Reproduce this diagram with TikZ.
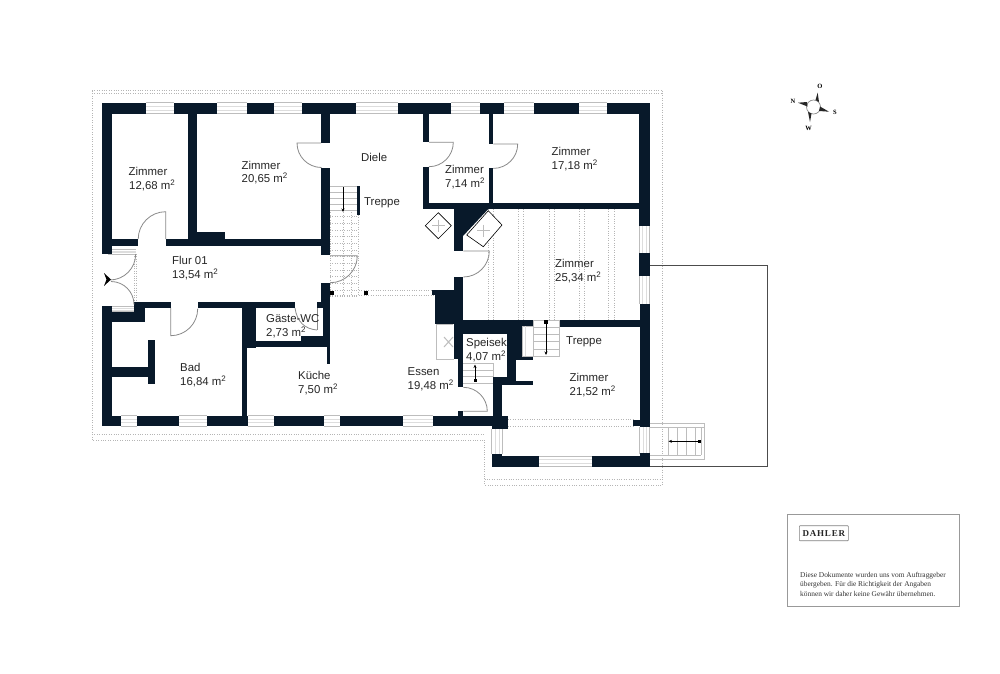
\documentclass[tikz,border=0pt]{standalone}
\usepackage{fontspec}
\usetikzlibrary{arrows.meta}
\setmainfont{Liberation Sans}
\newfontfamily\serifb{Liberation Serif}
\definecolor{wallc}{HTML}{08192A}
\definecolor{linec}{HTML}{8A8A8A}
\definecolor{winc}{HTML}{BDBDBD}
\definecolor{wininner}{HTML}{DDDDDD}
\definecolor{dotc}{HTML}{B5B5B5}
\newcommand{\wl}[4]{\fill[wallc] (#1,#2) rectangle (#3,#4);}
\newcommand{\hwin}[4]{\fill[white] (#1,#2) rectangle (#3,#4);
  \draw[wininnerline] (#1,{#2+(#4-#2)/3}) -- (#3,{#2+(#4-#2)/3}) (#1,{#2+2*(#4-#2)/3}) -- (#3,{#2+2*(#4-#2)/3});
  \draw[winline] (#1,#2) -- (#3,#2) (#1,#4) -- (#3,#4);}
\newcommand{\vwin}[4]{\fill[white] (#1,#2) rectangle (#3,#4);
  \draw[wininnerline] ({#1+(#3-#1)/3},#2) -- ({#1+(#3-#1)/3},#4) ({#1+2*(#3-#1)/3},#2) -- ({#1+2*(#3-#1)/3},#4);
  \draw[winline] (#1,#2) -- (#1,#4) (#3,#2) -- (#3,#4);}
\newcommand{\lab}[3]{\node[roomlabel] at (#1,#2) {#3};}
\newcommand{\msq}{ m\textsuperscript{2}}
\tikzset{
  winline/.style={winc,line width=.5pt},
  wininnerline/.style={wininner,line width=.6pt},
  doorline/.style={linec,line width=.8pt},
  dotline/.style={dotc,line width=.6pt,dash pattern=on .9pt off 1.5pt},
  stairline/.style={winc,line width=.6pt},
  roomlabel/.style={anchor=base west,inner sep=0pt,font=\fontsize{11.4}{13}\selectfont,text=black!85},
  darrow/.style={black,line width=.6pt}
}
\begin{document}
\begin{tikzpicture}[x=1pt,y=-1pt]
\useasboundingbox (0,0) rectangle (1000,673);
\fill[white] (0,0) rectangle (1000,673);
% outer dotted outline
\draw[dotline] (92,90) -- (662.7,90) -- (662.7,485) -- (484.5,485) -- (484.5,440) -- (92,440) -- cycle;
\draw[dotline] (92,93.3) -- (662.7,93.3);
\draw[dotline] (92,434.3) -- (485,434.3);
\draw[dotline] (484.5,479) -- (662.7,479);
% terrace line
\draw[black!70,line width=.9pt] (649.7,265) -- (767.7,265) -- (767.7,466.3) -- (649.7,466.3);
% hidden dotted
\foreach \x in {488.3,493.3,518.3,523.3,549,554,579.3,584.3,608.7,614.3}{\draw[dotline] (\x,209) -- (\x,320);}
\foreach \x in {330.7,343,351,358.5}{\draw[dotline] (\x,210) -- (\x,296);}
\foreach \y in {210,216.7,223.4,230,236.7,243.4,250,256.7,263.4,270,276.7,283.4,290,296}{\draw[dotline] (330,\y) -- (358.5,\y);}
\draw[dotline] (330,290.5) -- (432,290.5) (330,295) -- (435,295);
\draw[dotline] (134.5,254) -- (134.5,302) (136.5,254) -- (136.5,302);
\draw[dotline] (508,419.6) -- (633,419.6) (508,426) -- (633,426);
% windows top
\hwin{146}{102.5}{173.5}{113.5}
\hwin{217}{102.5}{246.7}{113.5}
\hwin{273.5}{102.5}{302}{113.5}
\hwin{356}{102.5}{397.7}{113.5}
\hwin{451.3}{102.5}{479.7}{113.5}
\hwin{504}{102.5}{533.7}{113.5}
\hwin{578.7}{102.5}{607}{113.5}
% windows right
\vwin{639.3}{226}{649.5}{253.3}
\vwin{639.3}{276}{649.5}{304}
% windows bottom
\hwin{120.7}{415.7}{137.3}{426}
\hwin{178.7}{415.7}{206.7}{426}
\hwin{247.7}{415.7}{274.3}{426}
\hwin{324.3}{415.7}{340}{426}
\hwin{403.3}{415.7}{432.7}{426}
\hwin{539.3}{456}{591.7}{466.7}
\vwin{491.7}{429}{502.5}{454}
\vwin{639.7}{427}{649.3}{453.5}
\hwin{108.3}{249.5}{135.7}{254}
\hwin{108.3}{306.7}{133.5}{311.7}
% top wall
\wl{101.7}{102.5}{146}{113.5}
\wl{173.5}{102.5}{217}{113.5}
\wl{246.7}{102.5}{273.5}{113.5}
\wl{302}{102.5}{356}{113.5}
\wl{397.7}{102.5}{451.3}{113.5}
\wl{479.7}{102.5}{504}{113.5}
\wl{533.7}{102.5}{578.7}{113.5}
\wl{607}{102.5}{649.5}{113.5}
% left wall
\wl{101.7}{102.5}{112.3}{254}
\wl{101.7}{306}{112.3}{426}
% right wall
\wl{639.3}{102.5}{649.5}{226}
\wl{639.3}{253.3}{649.5}{276}
\wl{639.7}{304}{649.5}{427}
% partitions upper
\wl{187.7}{113}{197.3}{240}
\wl{197}{231.7}{224.5}{240}
\wl{112}{239}{137.7}{246.3}
\wl{165.7}{239}{322}{246.3}
\wl{321}{113}{330}{143}
\wl{321}{167.5}{330}{255}
\wl{321}{282.7}{330}{308.3}
\wl{422.7}{113}{429}{142.3}
\wl{422.7}{166.7}{429}{203}
\wl{488.7}{113}{493.3}{144}
\wl{488.7}{168.4}{493.3}{203}
\wl{422.7}{202.7}{640}{209.3}
% chimney
\wl{454.3}{209}{463.3}{251}
\fill[wallc] (463,209) -- (488.3,209) -- (463,236) -- cycle;
\wl{454.3}{277.3}{463.3}{324}
\wl{431.7}{290}{463.3}{295}
\wl{435}{295}{463.3}{324.3}
% middle
\wl{134}{301.7}{170.7}{308.3}
\wl{197.7}{301.7}{295}{308.3}
\wl{316.7}{301.7}{330}{308.3}
\wl{134}{301.7}{145}{321.7}
\wl{112}{311.7}{145}{321.7}
\wl{241.7}{308}{256.3}{348}
\wl{256}{341}{330}{346.7}
\wl{301}{336}{323.7}{341.5}
\wl{323.3}{308}{330}{346.7}
\wl{326.7}{346}{330}{364}
\wl{241.7}{346}{247.3}{426}
% Bad inner
\wl{148}{340}{155}{384.3}
\wl{112}{367.3}{148}{376.7}
% bottom wall
\wl{101.7}{415.7}{120.7}{426}
\wl{137.3}{415.7}{178.7}{426}
\wl{206.7}{415.7}{247.7}{426}
\wl{274.3}{415.7}{324.3}{426}
\wl{340}{415.7}{403.3}{426}
\wl{432.7}{415.7}{508}{425.7}
\wl{491.7}{425}{502.3}{429}
% Speisekammer & surroundings
\wl{463}{320}{533.3}{326.5}
\wl{559.5}{320}{640}{326.7}
\wl{454.3}{324}{463.3}{334.3}
\wl{463}{326}{506.7}{334.3}
\wl{454.3}{334}{463.3}{359}
\wl{458.3}{359}{463.3}{386.7}
\wl{506.7}{326}{522.3}{356}
\wl{506.7}{356}{515.7}{385}
\wl{515.7}{356}{533.3}{360}
\wl{493.3}{376.7}{516}{385}
\wl{515.7}{381}{533.3}{385}
\wl{493.3}{376.7}{502.3}{416}
\wl{458.3}{411}{463.3}{416}
% grey box near stairs
\draw[stairline,fill=white] (522.7,326) rectangle (533.3,356);
\draw[wininnerline] (525,326) -- (525,356);
% wintergarten
\wl{491.7}{454}{502}{466.7}
\wl{491.7}{456}{539.3}{466.7}
\wl{591.7}{456}{649.7}{466.7}
\wl{640}{453.3}{649.7}{466.7}
\wl{633.3}{420}{640}{426}
\wl{491.7}{425}{508}{428.7}
\wl{502}{420}{508}{428.7}
% doors
\draw[doorline] (321,143) -- (297,143) arc[start angle=180,end angle=90,radius=24.5];
\draw[doorline] (165.7,239) -- (165.7,211.7) arc[start angle=-90,end angle=-180,radius=27.5];
\draw[doorline] (135.7,254) arc[start angle=0,end angle=90,radius=26];
\draw[doorline] (111,281.5) arc[start angle=-90,end angle=0,radius=23];
\fill[black] (104,273) -- (111,279.5) -- (104,286) -- (106.5,279.5) -- cycle;
\draw[doorline] (170.7,308) -- (170.7,335.7) arc[start angle=90,end angle=0,radius=27];
\draw[doorline] (317,308) -- (317,330);
\draw[doorline] (295,308) .. controls (297,322) and (305,329) .. (317,330);
\draw[doorline] (429,142.3) -- (453.3,142.3) arc[start angle=0,end angle=90,radius=24.4];
\draw[doorline] (493.3,144) -- (517.7,144) arc[start angle=0,end angle=90,radius=24.4];
\draw[doorline] (463.3,251) -- (489.3,251) arc[start angle=0,end angle=90,radius=26];
\draw[doorline] (330,255.7) -- (357.3,255.7) arc[start angle=0,end angle=90,radius=27];
\draw[doorline] (463.3,387.3) arc[start angle=-90,end angle=0,radius=24] -- (463.3,411.3);
% vents
\draw[black,line width=.6pt,fill=white] (438.3,212.7) -- (451.3,225.7) -- (438.3,238.7) -- (425.3,225.7) -- cycle;
\draw[winc,line width=1.4pt] (438.3,219.5) -- (438.3,232) (432,225.7) -- (444.5,225.7);
\draw[black,line width=.6pt,fill=white] (488.3,210.7) -- (502,225) -- (483.3,246.7) -- (466.7,235) -- cycle;
\draw[winc,line width=1.4pt] (483.3,224.5) -- (483.3,237) (477,230.7) -- (489.5,230.7);
% stairs Treppe 1
\foreach \y in {186,192,198,204,210}{\draw[stairline] (330,\y) -- (358,\y);}
\fill[wallc] (357.3,186) rectangle (360,215);
\draw[darrow,-{Stealth[length=3.5pt,width=3pt]}] (343,187) -- (343,212);
% Essen grey box
\draw[stairline] (453.3,324) -- (436.7,324) -- (436.7,359.3) -- (454.3,359.3);
\draw[winc,line width=1pt] (444,337) -- (453,347) (444,347) -- (453,337);
% Speisekammer stairs
\draw[stairline] (463.3,363.3) -- (493.3,363.3) -- (493.3,376.7) (463.3,376.3) -- (493.3,376.3) (463.3,383.3) -- (493.3,383.3) (463.3,370) -- (493.3,370);
\fill[black] (473.5,378.5) rectangle (476.5,381.5);
\draw[darrow,-{Stealth[length=3.5pt,width=3pt]}] (475,380) -- (475,364.5);
% upper stairs right
\foreach \y in {320,327,334,341,349,356}{\draw[stairline] (533.3,\y) -- (559.7,\y);}
\draw[stairline] (533.3,320) -- (533.3,356) (559.7,320) -- (559.7,356);
\fill[black] (544.3,320.3) rectangle (547.7,323.7);
\draw[darrow,-{Stealth[length=3.5pt,width=3pt]}] (546,322) -- (546,355);
% outside stairs
\draw[stairline] (649.7,423.3) -- (704,423.3) -- (704,459) -- (649.7,459);
\draw[stairline] (649.7,427.3) -- (704,427.3) (649.7,455) -- (701,455) (701,427.3) -- (701,455);
\foreach \x in {668.3,677.3,686.7,695.7}{\draw[stairline] (\x,427.3) -- (\x,455);}
\fill[black] (697.5,439.5) rectangle (701,443);
\draw[darrow,-{Stealth[length=3.5pt,width=3pt]}] (699,441.3) -- (668.5,441.3);
% small squares
\fill[black] (329.8,290.5) rectangle (333.8,294.5);
\fill[black] (364,290.5) rectangle (368,294.5);
% labels
\lab{128.5}{175.5}{Zimmer}\lab{129}{189.5}{12,68\msq}
\lab{241.5}{169}{Zimmer}\lab{241.5}{182.5}{20,65\msq}
\lab{361}{161.5}{Diele}
\lab{364}{205}{Treppe}
\lab{445}{173}{Zimmer}\lab{445}{187}{7,14\msq}
\lab{551.5}{155}{Zimmer}\lab{551.5}{169}{17,18\msq}
\lab{172}{264}{Flur 01}\lab{172}{278}{13,54\msq}
\lab{555}{267}{Zimmer}\lab{555}{281}{25,34\msq}
\lab{266}{322}{Gäste-WC}\lab{266}{336}{2,73\msq}
\lab{466}{346}{Speisek}\lab{466}{360}{4,07\msq}
\lab{566}{344}{Treppe}
\lab{569.5}{381}{Zimmer}\lab{569.5}{395}{21,52\msq}
\lab{180}{371}{Bad}\lab{180}{385}{16,84\msq}
\lab{298}{379}{Küche}\lab{298}{393}{7,50\msq}
\lab{407.5}{375}{Essen}\lab{407.5}{389}{19,48\msq}
% compass
\draw[black!45,line width=.7pt] (813.5,107) circle[radius=7];
\fill[black!85] (817.7,92.7) -- (815.5,100) -- (819,102) -- cycle;
\fill[black!85] (829,111.7) -- (820,106.5) -- (819,111) -- cycle;
\fill[black!85] (810,122) -- (811.5,113.5) -- (808,112) -- cycle;
\fill[black!85] (798,102.7) -- (807,102) -- (807.5,106.5) -- cycle;
\node[font=\serifb\fontsize{6.5}{7}\selectfont\bfseries,inner sep=0pt] (cO) at (820,86.5) {O};
\node[font=\serifb\fontsize{6.5}{7}\selectfont\bfseries,inner sep=0pt] (cS) at (835,112.5) {S};
\node[font=\serifb\fontsize{6.5}{7}\selectfont\bfseries,inner sep=0pt] (cW) at (808.5,128) {W};
\node[font=\serifb\fontsize{6.5}{7}\selectfont\bfseries,inner sep=0pt] (cN) at (793,101) {N};
% legend
\draw[black!40,line width=.7pt] (787.3,514.7) rectangle (959.3,606.7);
\draw[black!50,line width=.6pt,rounded corners=.7pt] (799.3,525.7) rectangle (848.3,540.7);
\node[font=\serifb\fontsize{9}{10}\selectfont\bfseries,text=black!85,inner sep=0pt] (logo) at (823.8,533.5) {D\kern.8pt A\kern.8pt H\kern.8pt L\kern.8pt E\kern.8pt R};
\node[anchor=base west,inner sep=0pt,font=\serifb\fontsize{7.4}{8}\selectfont,text=black!80] (t1) at (800,577) {Diese Dokumente wurden uns vom Auftraggeber};
\node[anchor=base west,inner sep=0pt,font=\serifb\fontsize{7.4}{8}\selectfont,text=black!80] (t2) at (800,586.5) {übergeben. Für die Richtigkeit der Angaben};
\node[anchor=base west,inner sep=0pt,font=\serifb\fontsize{7.4}{8}\selectfont,text=black!80] (t3) at (800,596) {können wir daher keine Gewähr übernehmen.};
\end{tikzpicture}
\end{document}
